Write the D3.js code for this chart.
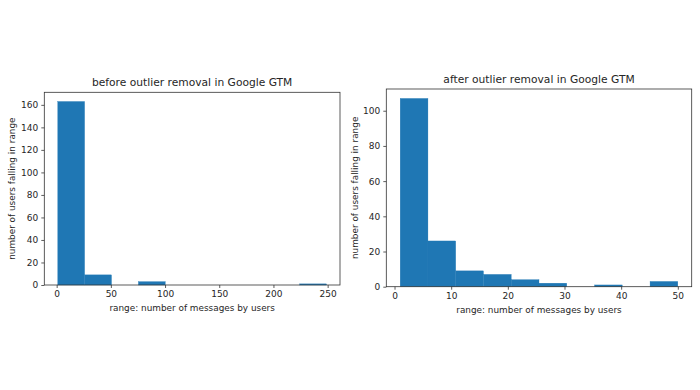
<!DOCTYPE html>
<html>
<head>
<meta charset="utf-8">
<script src="https://cdn.jsdelivr.net/npm/d3@7"></script>
<style>
  body { margin: 0; background: #fff; }
  text { font-family: "DejaVu Sans", sans-serif; fill: #262626; }
</style>
</head>
<body>
<div class="canva"></div>
<script>
// histogram bins: edges and counts
const beforeEdges = [1, 25.8, 50.6, 75.4, 100.2, 125, 149.8, 174.6, 199.4, 224.2, 249];
const beforeCounts = [163, 9, 0, 3, 0, 0, 0, 0, 0, 1];
const beforeTicksX = [0, 50, 100, 150, 200, 250];
const beforeTicksY = [0, 20, 40, 60, 80, 100, 120, 140, 160];

const afterEdges = [1, 5.9, 10.8, 15.7, 20.6, 25.5, 30.4, 35.3, 40.2, 45.1, 50];
const afterCounts = [107, 26, 9, 7, 4, 2, 0, 1, 0, 3];
const afterTicksX = [0, 10, 20, 30, 40, 50];
const afterTicksY = [0, 20, 40, 60, 80, 100];

const xLabel = "range: number of messages by users";
const yLabel = "number of users falling in range";

const svg = d3.select(".canva").append("svg")
    .attr("width", 700)
    .attr("height", 390);

function drawHist(box, title, edges, counts, ticksX, ticksY) {
    const lo = edges[0], hi = edges[edges.length - 1];
    const pad = (hi - lo) * 0.05;
    const x = d3.scaleLinear().domain([lo - pad, hi + pad]).range([box.left, box.right]);
    const y = d3.scaleLinear().domain([0, d3.max(counts) * 1.05]).range([box.bottom, box.top]);

    const bins = counts.map((c, i) => ({x0: edges[i], x1: edges[i + 1], n: c}));

    const g = svg.append("g");

    g.selectAll("rect.bar")
        .data(bins)
        .enter()
        .append("rect")
        .attr("class", "bar")
        .attr("x", d => x(d.x0))
        .attr("width", d => x(d.x1) - x(d.x0))
        .attr("y", d => y(d.n))
        .attr("height", d => y(0) - y(d.n))
        .attr("fill", "#1f77b4")
        .attr("stroke", "#1f77b4")
        .attr("stroke-width", 0.3);

    // frame
    g.append("rect")
        .attr("x", box.left).attr("y", box.top)
        .attr("width", box.right - box.left)
        .attr("height", box.bottom - box.top)
        .attr("fill", "none")
        .attr("stroke", "#333")
        .attr("stroke-width", 0.8);

    const xAxis = g.append("g")
        .attr("transform", `translate(0,${box.bottom})`)
        .call(d3.axisBottom(x).tickValues(ticksX).tickSize(3).tickPadding(3));
    const yAxis = g.append("g")
        .attr("transform", `translate(${box.left},0)`)
        .call(d3.axisLeft(y).tickValues(ticksY).tickSize(3).tickPadding(3));

    [xAxis, yAxis].forEach(a => {
        a.select(".domain").remove();
        a.selectAll("line").attr("stroke", "#333").attr("stroke-width", 0.8);
        a.selectAll("text").style("font-size", "9px").attr("fill", "#262626")
            .style("font-family", "'DejaVu Sans', sans-serif");
    });

    g.append("text")
        .attr("x", (box.left + box.right) / 2)
        .attr("y", box.top - 6)
        .attr("text-anchor", "middle")
        .style("font-size", "10.7px")
        .text(title);

    g.append("text")
        .attr("x", (box.left + box.right) / 2)
        .attr("y", box.bottom + 26)
        .attr("text-anchor", "middle")
        .style("font-size", "8.9px")
        .text(xLabel);

    g.append("text")
        .attr("transform", `translate(${box.ylab},${(box.top + box.bottom) / 2}) rotate(-90)`)
        .attr("text-anchor", "middle")
        .style("font-size", "8.9px")
        .text(yLabel);
}

drawHist({left: 44.3, right: 340, top: 92.3, bottom: 285, ylab: 15},
    "before outlier removal in Google GTM", beforeEdges, beforeCounts, beforeTicksX, beforeTicksY);
drawHist({left: 386.3, right: 691.7, top: 89, bottom: 286.7, ylab: 358},
    "after outlier removal in Google GTM", afterEdges, afterCounts, afterTicksX, afterTicksY);
</script>
</body>
</html>
